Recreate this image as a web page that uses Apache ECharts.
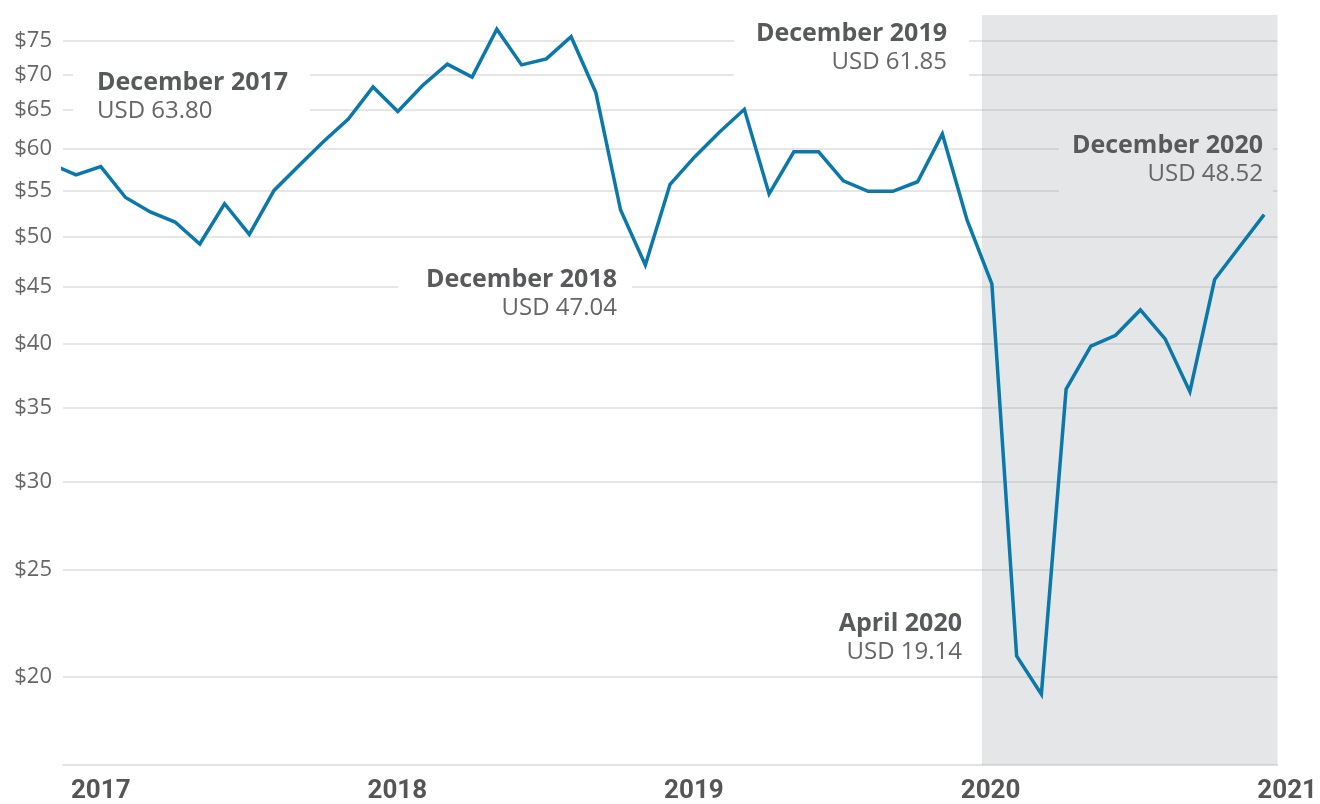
<!DOCTYPE html>
<html>
<head>
<meta charset="utf-8">
<script src="https://cdn.jsdelivr.net/npm/echarts@6/dist/echarts.min.js"></script>
<style>
html,body{margin:0;padding:0;background:#fff;}
#chart{width:1320px;height:804px;}
</style>
</head>
<body>
<div id="chart"></div>
<script>
// ---- data ----
const months = ['Dec 2016',
  'Jan 2017','Feb 2017','Mar 2017','Apr 2017','May 2017','Jun 2017','Jul 2017','Aug 2017','Sep 2017','Oct 2017','Nov 2017','Dec 2017',
  'Jan 2018','Feb 2018','Mar 2018','Apr 2018','May 2018','Jun 2018','Jul 2018','Aug 2018','Sep 2018','Oct 2018','Nov 2018','Dec 2018',
  'Jan 2019','Feb 2019','Mar 2019','Apr 2019','May 2019','Jun 2019','Jul 2019','Aug 2019','Sep 2019','Oct 2019','Nov 2019','Dec 2019',
  'Jan 2020','Feb 2020','Mar 2020','Apr 2020','May 2020','Jun 2020','Jul 2020','Aug 2020','Sep 2020','Oct 2020','Nov 2020','Dec 2020',
  'Jan 2021'];
const prices = [58.1,
  56.8,57.8,54.2,52.6,51.5,49.2,53.5,50.2,55.0,57.9,60.9,63.8,
  68.2,64.8,68.4,71.5,69.6,76.9,71.4,72.3,75.7,67.4,52.8,47.1,
  55.7,59.0,62.1,65.1,54.6,59.6,59.6,56.1,54.9,54.9,56.0,61.85,
  51.7,45.3,20.9,19.3,36.4,39.8,40.7,42.9,40.4,36.2,45.7,48.9,
  52.3];
const yTicks = [20,25,30,35,40,45,50,55,60,65,70,75];
const yearLabels = ['2017','2018','2019','2020','2021'];
const yearTickIndex = [2,14,26,38,50];
const highlightRange = [37.6, 49.54];
const annoTitles = ['December 2017','December 2018','December 2019','April 2020','December 2020'];
const annoValues = ['USD 63.80','USD 47.04','USD 61.85','USD 19.14','USD 48.52'];

// ---- layout ----
const X_MIN = 0.473, X_MAX = 49.54;
const GRID_L = 63, GRID_R = 42.5, GRID_T = 15, GRID_B = 39;
const plotW = 1320 - GRID_L - GRID_R;
const pxPerIdx = plotW / (X_MAX - X_MIN);
const X2_MAX = X_MIN + (1320 - GRID_L) / pxPerIdx;
const LINE = '#0a78aa';
const FONT = '"Open Sans", sans-serif';

const chart = echarts.init(document.getElementById('chart'), null, {renderer: 'canvas'});

function anno(k, x, y, align, bg, pad) {
  return {
    type: 'text', z: 10,
    style: {
      x: x, y: y, align: align, verticalAlign: 'top',
      text: '{t|' + annoTitles[k] + '}\n{v|' + annoValues[k] + '}',
      backgroundColor: bg, padding: pad,
      rich: {
        t: {fontFamily: FONT, fontWeight: 'bold', fontSize: 25, lineHeight: 29, fill: '#58595b', align: align},
        v: {fontFamily: FONT, fontSize: 24, lineHeight: 29, fill: '#666666', align: align}
      }
    }
  };
}

const option = {
  animation: false,
  backgroundColor: '#ffffff',
  grid: [
    {left: GRID_L, right: GRID_R, top: GRID_T, bottom: GRID_B},
    {left: GRID_L, right: 0, top: GRID_T, bottom: GRID_B, show: false}
  ],
  xAxis: [
    {type: 'value', gridIndex: 0, min: X_MIN, max: X_MAX,
     axisLine: {show: true, lineStyle: {color: '#d9d9d9', width: 1.5}},
     axisTick: {show: false}, axisLabel: {show: false}, splitLine: {show: false}},
    {type: 'value', gridIndex: 1, min: X_MIN, max: X2_MAX,
     axisLine: {show: false}, axisTick: {show: false}, splitLine: {show: false},
     axisLabel: {show: true, customValues: yearTickIndex, margin: 13,
       fontFamily: 'Roboto', fontWeight: 'bold', fontSize: 26, color: '#555555',
       formatter: function (v) { const k = yearTickIndex.indexOf(Math.round(v)); return k >= 0 ? yearLabels[k] : ''; }}}
  ],
  yAxis: [
    {type: 'log', gridIndex: 0, logBase: 10, min: 16.66, max: 79.2,
     axisLine: {show: false},
     axisTick: {show: false, customValues: yTicks},
     axisLabel: {show: true, customValues: yTicks, margin: 11,
       fontFamily: FONT, fontSize: 22, color: '#666666',
       formatter: function (v) { return '$' + Math.round(v); }},
     splitLine: {show: true, lineStyle: {color: '#dedede', width: 1.5}}},
    {type: 'value', gridIndex: 1, min: 0, max: 1, show: false}
  ],
  graphic: [
    anno(0, 73, 60, 'left', '#ffffff', [8, 22, 8, 24]),
    anno(1, 632, 257, 'right', '#ffffff', [8, 15, 8, 28]),
    anno(2, 969, 11, 'right', '#ffffff', [8, 22, 8, 22]),
    anno(3, 962, 603, 'right', 'transparent', [6, 0, 4, 0]),
    anno(4, 1273, 123, 'right', '#e5e6e8', [8, 10, 8, 13])
  ],
  series: [{
    type: 'line',
    xAxisIndex: 0, yAxisIndex: 0,
    data: prices.map((p, i) => [i, p]),
    symbol: 'none',
    clip: true,
    lineStyle: {color: LINE, width: 3.5, join: 'miter'},
    markArea: {
      silent: true,
      itemStyle: {color: 'rgba(150,155,165,0.25)'},
      data: [[{xAxis: highlightRange[0]}, {xAxis: highlightRange[1]}]]
    }
  }]
};
chart.setOption(option);
</script>
</body>
</html>
